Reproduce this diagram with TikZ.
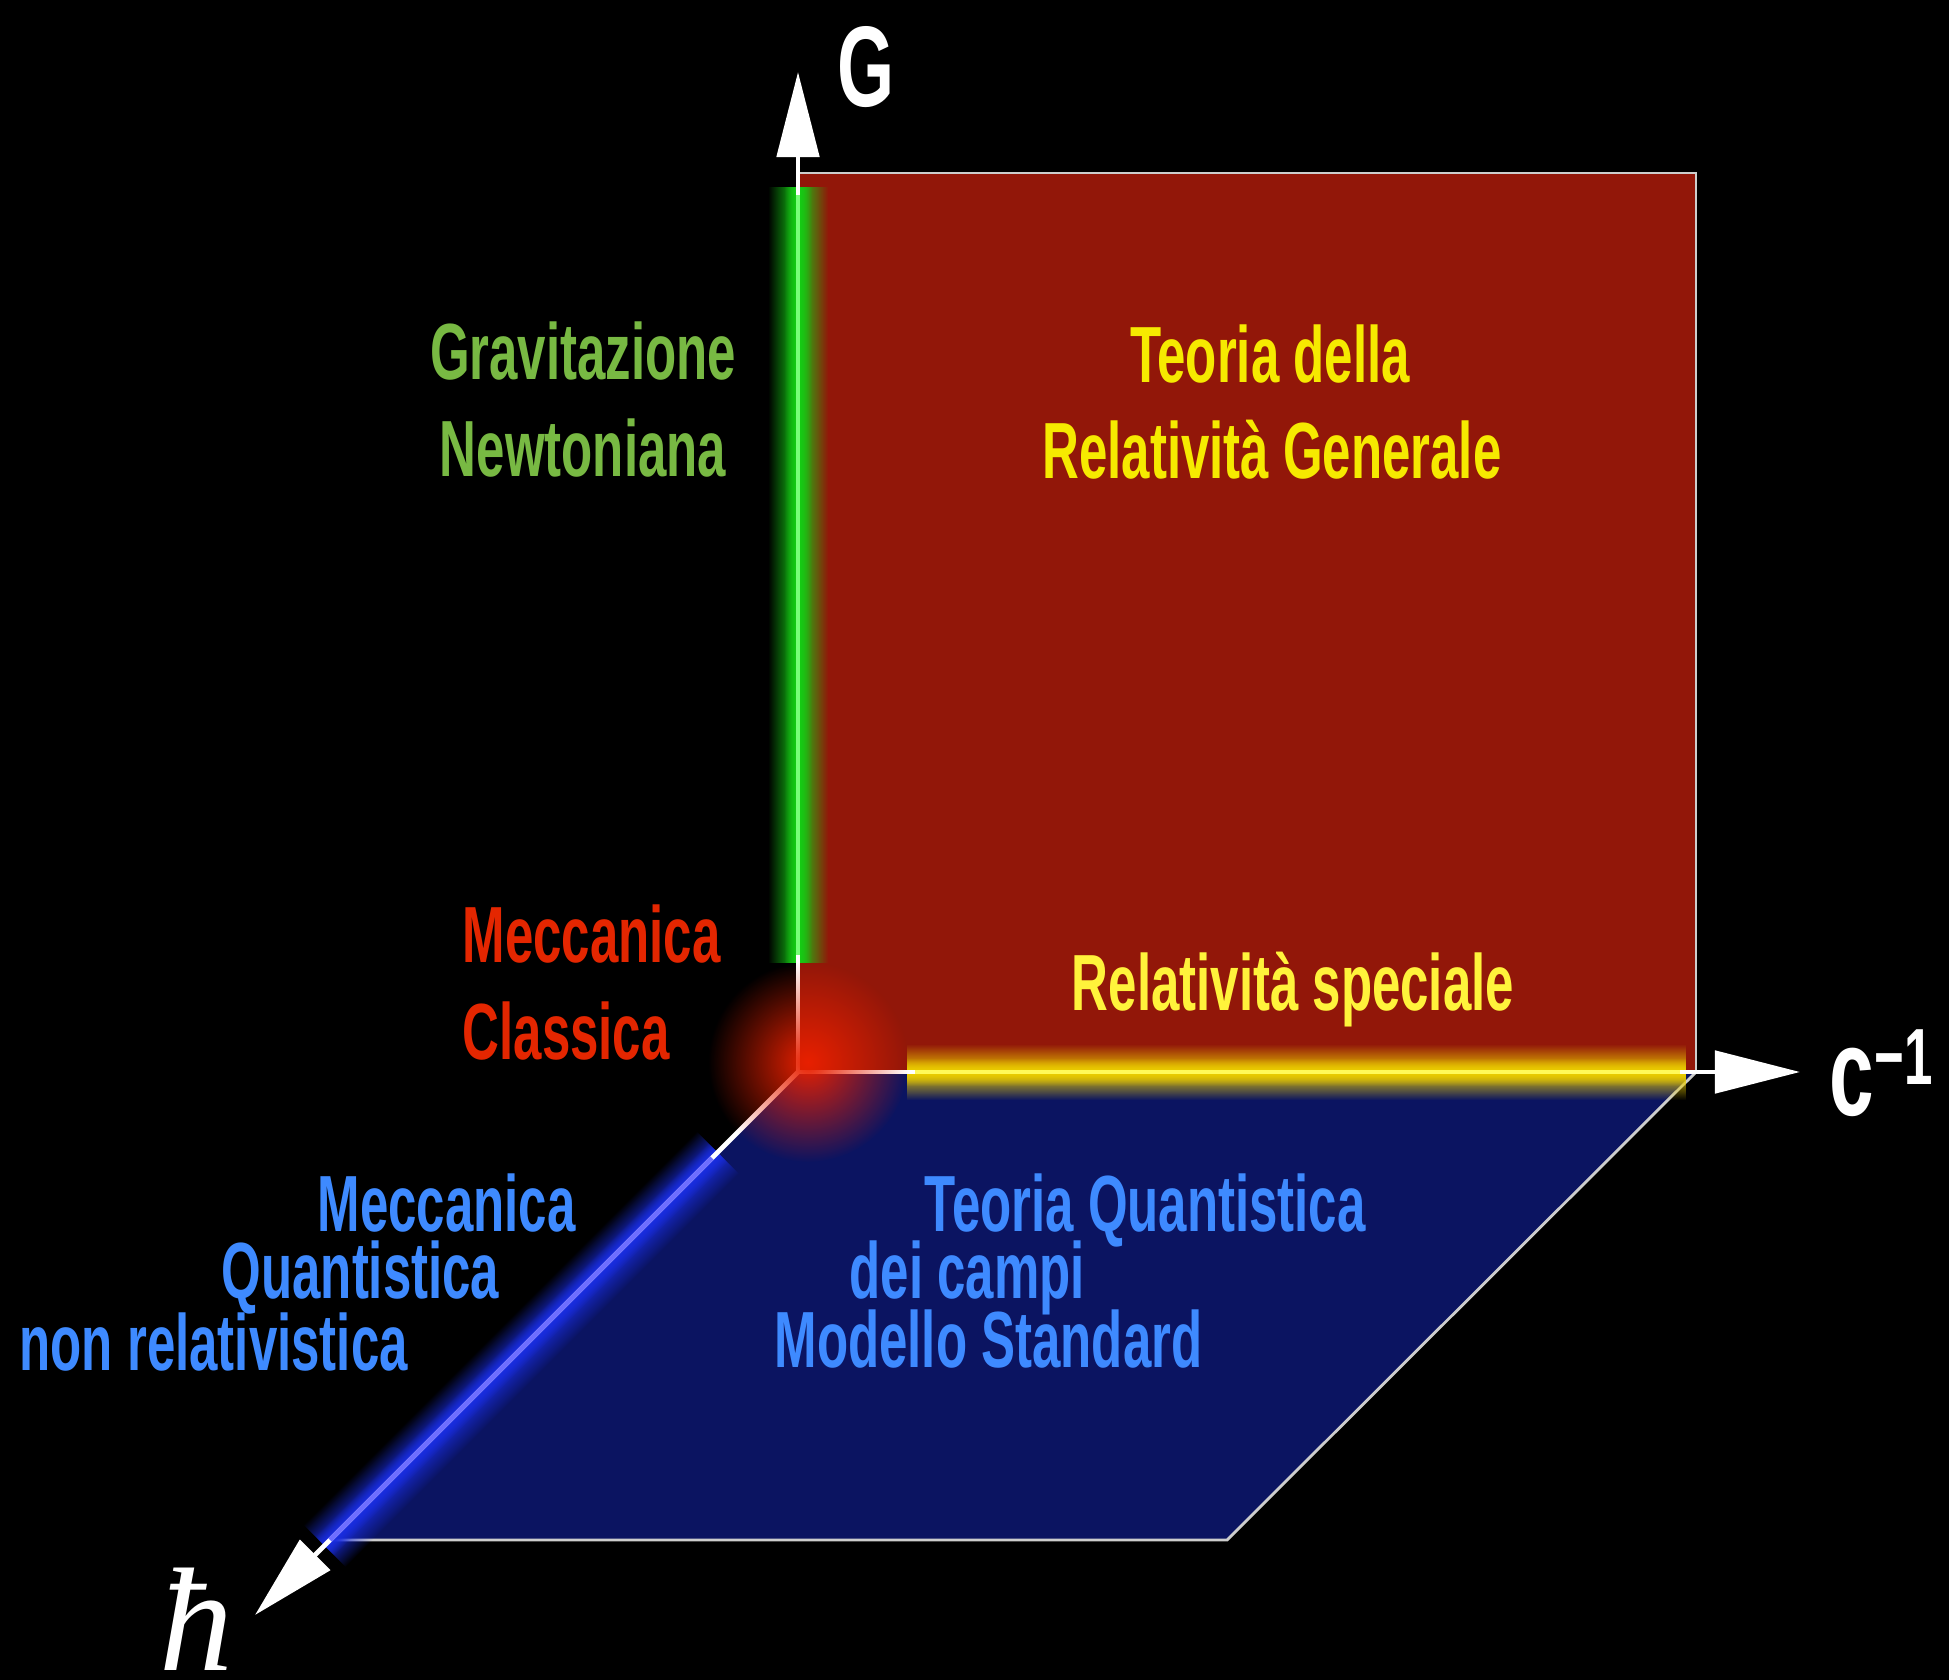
\documentclass[tikz,border=0pt]{standalone}
\usepackage{fontspec}
\newfontfamily\dinfont{Liberation Sans}[FakeStretch=0.64]
\newfontfamily\hbarfont{Liberation Serif}
\usetikzlibrary{arrows.meta,fadings,positioning}

\definecolor{bgred}{RGB}{146,23,9}
\definecolor{bgblue}{RGB}{11,20,97}
\definecolor{edgegray}{RGB}{205,205,205}
\definecolor{txtyellow}{RGB}{246,234,0}
\definecolor{txtspec}{RGB}{255,243,59}
\definecolor{txtgreen}{RGB}{120,185,67}
\definecolor{txtred}{RGB}{228,38,0}
\definecolor{txtblue}{RGB}{62,138,255}
\definecolor{glowgreen}{RGB}{20,205,20}
\definecolor{glowyellow}{RGB}{235,205,0}
\definecolor{glowblue}{RGB}{25,45,225}
\definecolor{glowred}{RGB}{232,32,0}
\definecolor{coregreen}{RGB}{120,255,120}
\definecolor{coreyellow}{RGB}{255,250,90}
\definecolor{coreblue}{RGB}{110,110,255}

\newcommand{\labelfont}{\dinfont\bfseries\fontsize{22.65}{27}\selectfont}

\tikzfading[name=glowband, left color=transparent!100, right color=transparent!100, middle color=transparent!0]
\tikzfading[name=glowbandv, top color=transparent!100, bottom color=transparent!100, middle color=transparent!0]
\tikzfading[name=glowdot, inner color=transparent!0, outer color=transparent!100]

\tikzset{
  axis/.style={white, line width=1.4pt, -{Triangle[length=8.5mm,width=4.2mm]}},
  lbl/.style={font=\labelfont, inner sep=0pt},
  axl/.style={text=white, inner sep=0pt},
  edgeline/.style={edgegray, line width=0.8pt}
}

\begin{document}
\begin{tikzpicture}[x=0.01cm, y=-0.01cm]
  \fill[black] (0,0) rectangle (1949,1680);
  \useasboundingbox (0,0) rectangle (1949,1680);

  \coordinate (O) at (798,1072);
  \coordinate (Gtip) at (798,72);
  \coordinate (Ctip) at (1800,1072);
  \coordinate (Htip) at (255,1615);

% planes
  \fill[bgred] (798,173) rectangle (1696,1072);
  \draw[edgeline] (798,173) -- (1696,173) -- (1696,1072);
  \fill[bgblue] (798,1072) -- (1696,1072) -- (1227,1540) -- (331,1540) -- cycle;
  \draw[edgeline] (331,1540) -- (1227,1540) -- (1696,1072);

% glows along the axes
  \fill[glowgreen, path fading=glowband] (768,187) rectangle (828,963);
  \fill[glowgreen, path fading=glowband] (784,187) rectangle (812,963);
  \fill[glowyellow, path fading=glowbandv] (907,1044) rectangle (1686,1100);
  \fill[glowyellow, path fading=glowbandv] (907,1058) rectangle (1686,1086);
  \begin{scope}[transform canvas={shift={(521,1349)}, rotate=45}]
    \fill[glowblue, path fading=glowbandv] (-278,-30) rectangle (278,30);
    \fill[glowblue, path fading=glowbandv] (-278,-14) rectangle (278,14);
  \end{scope}

% axes
  \draw[axis] (O) -- (Gtip);
  \draw[axis] (O) -- (Ctip);
  \draw[axis] (O) -- (Htip);

% bright cores
  \draw[coregreen, line width=1.4pt] (798,195) -- (798,955);
  \draw[coreyellow, line width=1.4pt] (915,1072) -- (1680,1072);
  \begin{scope}[transform canvas={shift={(521,1349)}, rotate=45}]
    \draw[coreblue, line width=1.4pt] (-270,0) -- (270,0);
  \end{scope}

% glow at the origin
  \fill[glowred, path fading=glowdot] (808,1062) circle (100);

% labels
  \node[lbl, text=txtgreen, anchor=base] (grav1) at (583,380) {Gravitazione};
  \node[lbl, text=txtgreen, anchor=base] (grav2) at (583,477) {Newtoniana};
  \node[lbl, text=txtyellow, anchor=base] (rg1) at (1270,383) {Teoria della};
  \node[lbl, text=txtyellow, anchor=base] (rg2) at (1272,479) {Relatività Generale};
  \node[lbl, text=txtred, anchor=base west] (mc1) at (462,963) {Meccanica};
  \node[lbl, text=txtred, anchor=base west] (mc2) at (462,1060) {Classica};
  \node[lbl, text=txtspec, anchor=base] (rs) at (1293,1011) {Relatività speciale};
  \node[lbl, text=txtblue, anchor=base west] (mq1) at (317,1231) {Meccanica};
  \node[lbl, text=txtblue, anchor=base west] (mq2) at (221,1298) {Quantistica};
  \node[lbl, text=txtblue, anchor=base west] (mq3) at (19,1370) {non relativistica};
  \node[lbl, text=txtblue, anchor=base west] (qft1) at (924,1231) {Teoria Quantistica};
  \node[lbl, text=txtblue, anchor=base west] (qft2) at (849,1298) {dei campi};
  \node[lbl, text=txtblue, anchor=base west] (qft3) at (774,1367) {Modello Standard};

% axis names
  \node[axl, font=\dinfont\bfseries\fontsize{32.6}{33}\selectfont, anchor=base] (labG) at (866,107) {G};
  \node[axl, font=\dinfont\bfseries\fontsize{35.6}{36}\selectfont, anchor=base west] (labC) at (1829,1115) {c\raisebox{0.3cm}{\labelfont −1}};
  \node[axl, font=\hbarfont\itshape\fontsize{42}{42}\selectfont, anchor=base] (labH) at (196,1670) {ħ};
\end{tikzpicture}
\end{document}
